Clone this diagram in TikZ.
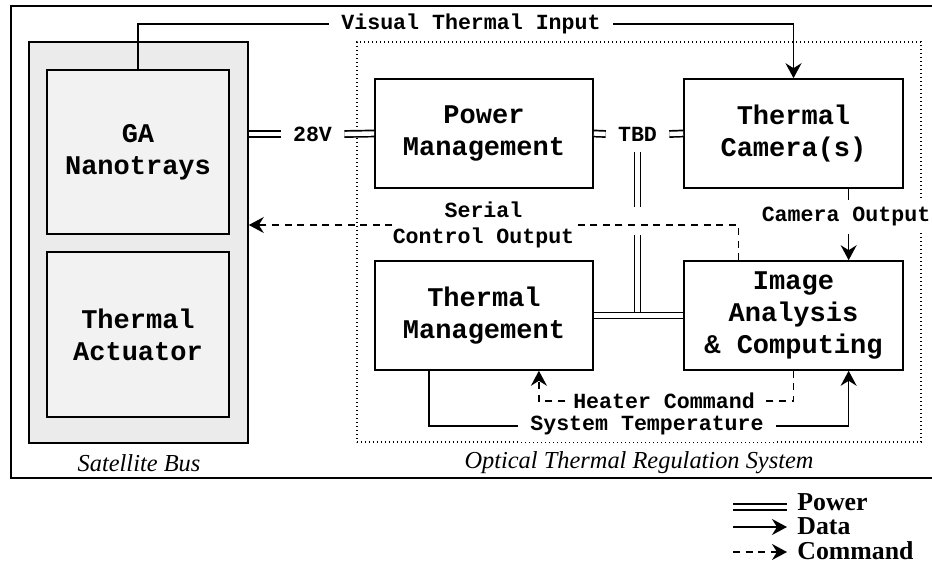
\documentclass[tikz,border=0pt]{standalone}
\usepackage{fontspec}
\setmainfont{Liberation Serif}
\newfontfamily\codefont{Liberation Mono}
\usetikzlibrary{positioning, arrows.meta, calc}

\definecolor{busgrey}{HTML}{EBEBEB}
\definecolor{traygrey}{HTML}{F2F2F2}

\tikzset{
  block/.style={draw, line width=0.8pt, fill=white, align=center,
    font=\codefont\bfseries\fontsize{13.5}{16}\selectfont,
    minimum width=109pt, minimum height=54.5pt},
  tray/.style={block, fill=traygrey, minimum width=91pt},
  elabel/.style={fill=white, inner xsep=6pt, inner ysep=3.5pt, align=center,
    font=\codefont\bfseries\fontsize{10.8}{13}\selectfont},
  wire/.style={line width=0.8pt},
  power/.style={double, double distance=2.2pt, line width=0.85pt},
  data/.style={wire, -{Stealth[length=7.5pt,width=8pt,inset=2.5pt]}},
  cmdline/.style={wire, dash pattern=on 3.5pt off 2.8pt},
  command/.style={cmdline, -{Stealth[length=7.5pt,width=8pt,inset=2.5pt]}},
  caption/.style={font=\itshape\fontsize{12.2}{14}\selectfont},
  legtext/.style={anchor=west, inner sep=0pt, font=\bfseries\fontsize{12.9}{15}\selectfont},
}

\begin{document}
\begin{tikzpicture}[x=0.5pt,y=-0.5pt]
\useasboundingbox (0,0) rectangle (932,567);

% frames
\draw[wire] (11,6) rectangle (940,478);
\node[draw, wire, fill=busgrey, minimum width=109.5pt, minimum height=200.5pt] (bus) at (138.5,242.5) {};
\node[draw, line width=0.7pt, dash pattern=on 0.7pt off 1.3pt, minimum width=282pt, minimum height=200pt] (otrs) at (639,242) {};
\node[caption] (busname) at (139,463) {Satellite Bus};
\node[caption] (otrsname) at (639,463) {Optical Thermal Regulation System};

% blocks
\node[tray, minimum height=82pt] (ga) at (138,152) {GA\\Nanotrays};
\node[tray, minimum height=82.5pt] (ta) at (138,334.5) {Thermal\\Actuator};
\node[block] (pm) at (484,133.5) {Power\\Management};
\node[block, minimum width=109.5pt] (cam) at (793.5,133.5) {Thermal\\Camera(s)};
\node[block] (tm) at (484,315.5) {Thermal\\Management};
\node[block, minimum width=109.5pt] (ia) at (793.5,315.5) {Image\\Analysis\\\& Computing};

% labels on the connectors
\node[elabel] (vti) at (471,24) {Visual Thermal Input};
\node[elabel] (v28) at (312.5,134) {28V};
\node[elabel, inner ysep=5pt] (tbd) at (637.5,134) {TBD};
\node[elabel, inner xsep=0pt] (sco) at (483.5,225) {Serial\\Control Output};
\node[elabel] (camout) at (846,217) {Camera Output};
\node[elabel, inner xsep=4pt] (heat) at (664,401) {Heater Command};
\node[elabel] (systemp) at (647,426) {System Temperature};

\coordinate (gapt) at (637.5,207);
\coordinate (gapb) at (637.5,235);
\coordinate (camx) at ($(cam.south west)!0.75!(cam.south east)$);

% power
\draw[power] (bus.east |- v28) -- (v28.west);
\draw[power] (v28.east) -- (pm.west);
\draw[power] (pm.east) -- (tbd.west);
\draw[power] (tbd.east) -- (cam.west);
\draw[power] (tbd.south) -- (gapt);
\draw[power] (gapb) -- (gapb |- tm.east);
\draw[power] (tm.east) -- (ia.west);

% data
\draw[wire] (ga.north) |- (vti.west);
\draw[data] (vti.east) -| (cam.north);
\draw[wire] (camx) -- (camx |- camout.north);
\draw[data] (camx |- camout.south) -- (camx |- ia.north);
\draw[wire] ($(tm.south west)!0.25!(tm.south east)$) |- (systemp.west);
\draw[data] (systemp.east) -| ($(ia.south west)!0.75!(ia.south east)$);

% commands
\draw[cmdline] ($(ia.north west)!0.25!(ia.north east)$) |- (sco.east);
\draw[command] (sco.west) -- (bus.east |- sco);
\draw[cmdline] (ia.south) |- (heat.east);
\draw[command] (heat.west) -| ($(tm.south west)!0.75!(tm.south east)$);

% legend
\node[legtext] (lpow) at (797,502) {Power};
\node[legtext] (ldat) at (797,526) {Data};
\node[legtext] (lcmd) at (797,551) {Command};
\draw[power] ($(lpow.west)+(-64,5)$) -- ($(lpow.west)+(-10,5)$);
\draw[data] ($(ldat.west)+(-64,1)$) -- ($(ldat.west)+(-10,1)$);
\draw[command] ($(lcmd.west)+(-64,1)$) -- ($(lcmd.west)+(-10,1)$);
\end{tikzpicture}
\end{document}
